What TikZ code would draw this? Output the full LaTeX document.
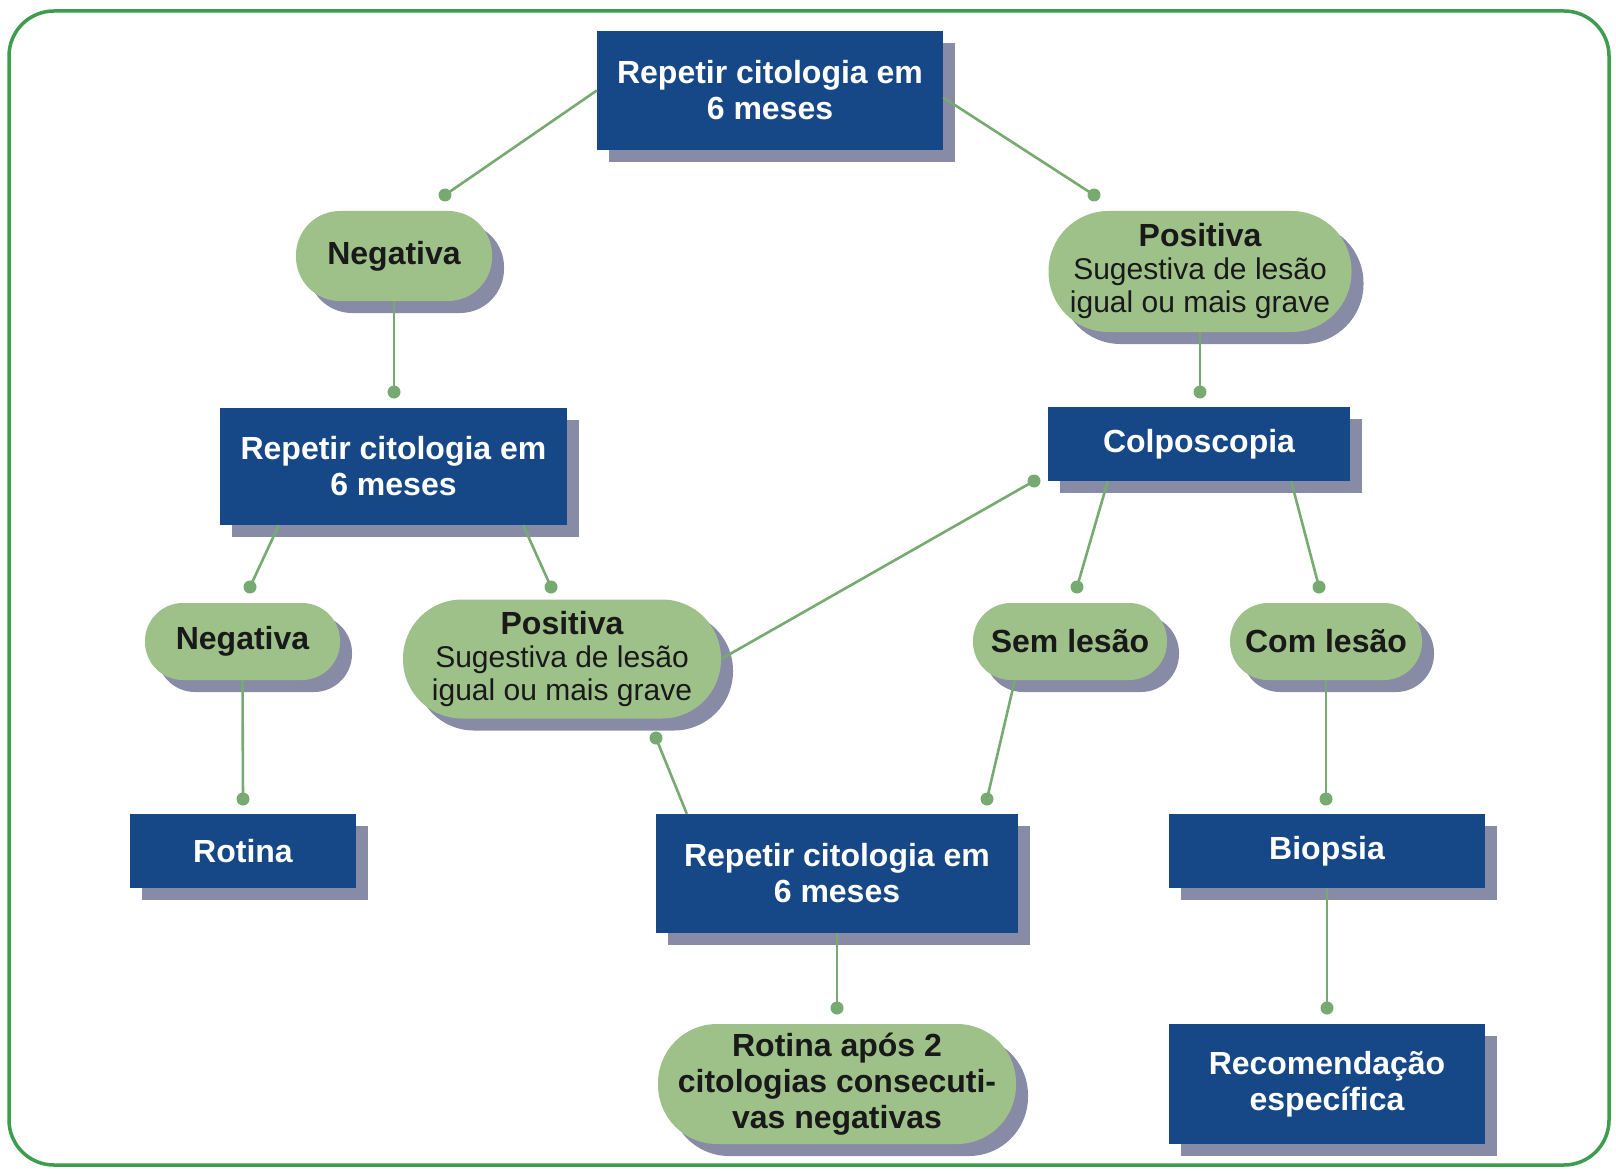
\documentclass[tikz,border=0pt]{standalone}
\usepackage{fontspec}
\setmainfont{Liberation Sans}
\usetikzlibrary{shadows,calc}
\definecolor{boxblue}{RGB}{22,71,135}
\definecolor{pillgreen}{RGB}{158,193,138}
\definecolor{shadowc}{RGB}{136,139,165}
\definecolor{linegreen}{RGB}{118,170,112}
\definecolor{framegreen}{RGB}{62,156,78}
\definecolor{darktext}{RGB}{25,25,25}
\begin{document}
\begin{tikzpicture}[x=1pt,y=-1pt,
  shad/.style={general shadow={shadow xshift=12pt,shadow yshift=-12pt,fill=shadowc}},
  bluebox/.style={shad,rectangle,fill=boxblue,text=white,align=center,inner sep=0pt,
    font=\fontsize{32}{36}\selectfont\bfseries},
  pill/.style={shad,rectangle,rounded corners=#1,fill=pillgreen,text=darktext,align=center,inner sep=0pt,
    font=\fontsize{32}{33}\selectfont},
  conn/.style={draw=linegreen,line width=2.6pt},
  dot/.style={fill=linegreen}
]
\useasboundingbox (0,0) rectangle (1616,1174);
\fill[white] (0,0) rectangle (1616,1174);
\draw[framegreen,line width=3.5pt,rounded corners=45pt] (9,11) rectangle (1609,1165);

% nodes
\node[bluebox,minimum width=346pt,minimum height=119pt] (b1) at (770,90.5) {Repetir citologia em\\6 meses};
\node[pill=44pt,minimum width=196pt,minimum height=90pt] (neg1) at (394,256) {\bfseries Negativa};
\node[pill=60pt,minimum width=303pt,minimum height=121pt] (pos1) at (1200,271.5) {\bfseries Positiva\\\fontsize{30}{33}\selectfont Sugestiva de lesão\\\fontsize{30}{33}\selectfont igual ou mais grave};
\node[bluebox,minimum width=302pt,minimum height=74pt] (colpo) at (1199,444) {Colposcopia};
\node[bluebox,minimum width=347pt,minimum height=117pt] (b2) at (393.5,466.5) {Repetir citologia em\\6 meses};
\node[pill=38pt,minimum width=195pt,minimum height=77pt] (neg2) at (242.5,641.5) {\bfseries Negativa};
\node[pill=59pt,minimum width=318pt,minimum height=119pt] (pos2) at (562,659) {\bfseries Positiva\\\fontsize{30}{33}\selectfont Sugestiva de lesão\\\fontsize{30}{33}\selectfont igual ou mais grave};
\node[pill=38pt,minimum width=194pt,minimum height=77pt] (sem) at (1070,641.5) {\bfseries Sem lesão};
\node[pill=38pt,minimum width=192pt,minimum height=77pt] (com) at (1326,641.5) {\bfseries Com lesão};
\node[bluebox,minimum width=226pt,minimum height=74pt] (rot) at (243,851) {Rotina};
\node[bluebox,minimum width=362pt,minimum height=119pt] (b3) at (837,873.5) {Repetir citologia em\\6 meses};
\node[bluebox,minimum width=316pt,minimum height=74pt] (bio) at (1327,851) {Biopsia};
\node[pill=59pt,minimum width=358pt,minimum height=120pt,font=\fontsize{32}{36}\selectfont\bfseries] (rot2) at (837,1084) {Rotina após 2\\citologias consecuti-\\vas negativas};
\node[bluebox,minimum width=316pt,minimum height=120pt] (rec) at (1327,1084) {Recomendação\\específica};

% dot coordinates
\coordinate (d1) at (445,195);
\coordinate (d2) at (1094,195);
\coordinate (d3) at (394,392);
\coordinate (d4) at (1200,392);
\coordinate (d5) at (250,587);
\coordinate (d6) at (551,587);
\coordinate (d7) at (243,799);
\coordinate (d8) at (1034,481);
\coordinate (d9) at (1077,587);
\coordinate (d10) at (1319,587);
\coordinate (d11) at (656,738);
\coordinate (d12) at (987,799);
\coordinate (d13) at (1326,799);
\coordinate (d14) at (837,1008);
\coordinate (d15) at (1327,1008);

% connectors
\draw[conn] (b1.west) -- (d1);
\draw[conn] ($(b1.east)+(0,7)$) -- (d2);
\draw[conn] (neg1.south) -- (d3);
\draw[conn] (pos1.south) -- (d4);
\draw[conn] ($(b2.south west)+(59,0)$) -- (d5);
\draw[conn] ($(b2.south east)+(-44,0)$) -- (d6);
\draw[conn] (neg2.south) -- (d7);
\draw[conn] (pos2.east) -- (d8);
\draw[conn] ($(colpo.south west)+(60,0)$) -- (d9);
\draw[conn] ($(colpo.south east)+(-59,0)$) -- (d10);
\draw[conn] ($(b3.north west)+(31,0)$) -- (d11);
\draw[conn] ($(sem.south west)+(42,0)$) -- (d12);
\draw[conn] (com.south) -- (d13);
\draw[conn] (b3.south) -- (d14);
\draw[conn] (bio.south) -- (d15);

\foreach \d in {d1,d2,d3,d4,d5,d6,d7,d8,d9,d10,d11,d12,d13,d14,d15}
  \fill[dot] (\d) circle (6.5pt);
\end{tikzpicture}
\end{document}
